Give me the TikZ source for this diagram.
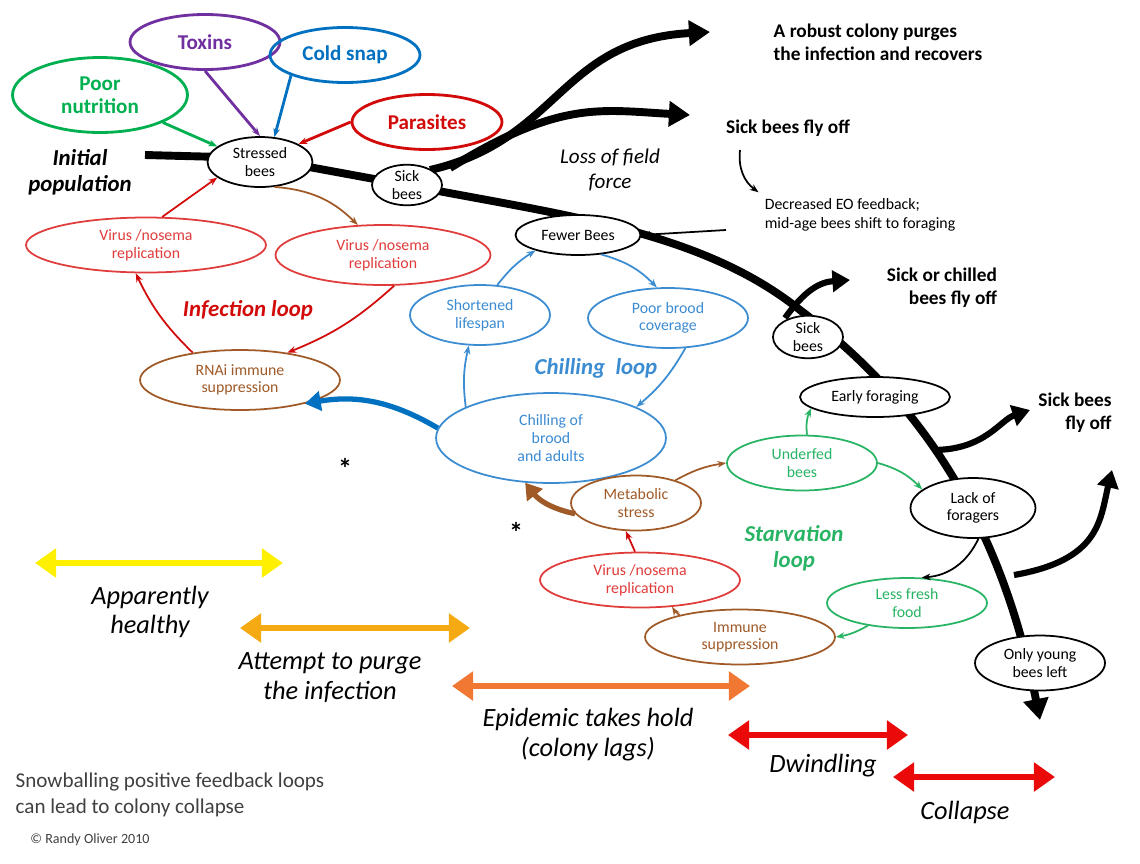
\documentclass[tikz,border=0pt]{standalone}
\usepackage{fontspec}
\setmainfont{Carlito}
\usetikzlibrary{arrows.meta,positioning,shapes.geometric}
\definecolor{tox}{RGB}{112,48,160}
\definecolor{cold}{RGB}{0,112,192}
\definecolor{nutr}{RGB}{0,176,80}
\definecolor{para}{RGB}{210,10,10}
\definecolor{chill}{RGB}{60,140,210}
\definecolor{vir}{RGB}{225,60,60}
\definecolor{brn}{RGB}{160,90,40}
\definecolor{stv}{RGB}{40,180,100}
\definecolor{yel}{RGB}{255,240,0}
\definecolor{gold}{RGB}{245,170,20}
\definecolor{orn}{RGB}{240,120,50}
\definecolor{rd}{RGB}{235,10,10}
\begin{document}
\begin{tikzpicture}[
  x=0.02cm, y=-0.02cm,
  bubble/.style={ellipse,draw,fill=white,line width=1pt,inner sep=0pt,align=center,font=\fontsize{9}{10}\selectfont},
  cause/.style={ellipse,draw,line width=1.6pt,inner sep=0pt,align=center,font=\fontsize{12}{13}\selectfont\bfseries},
  label/.style={align=center,font=\fontsize{13}{15}\selectfont\bfseries\itshape},
  note/.style={align=center,font=\fontsize{11}{13}\selectfont\bfseries},
  small/.style={-{Stealth[length=5pt]},line width=1pt},
  trunk/.style={line width=4.5pt,-{Triangle[length=12pt,width=14pt]}},
  span/.style={line width=3.5pt,{Triangle[length=12pt,width=16pt]}-{Triangle[length=12pt,width=16pt]}}
]
\useasboundingbox (0,0) rectangle (1140,863);

% main trunk and branches
\coordinate (start) at (145,155);
\draw[line width=4.5pt] (start) -- (260,158) -- (407,185);
\draw[trunk] (407,185) .. controls (560,215) and (700,230) .. (800,310)
  .. controls (920,400) and (1000,520) .. (1040,720);
\draw[trunk] (430,170) .. controls (560,140) and (560,40) .. (710,32);
\draw[trunk] (450,168) .. controls (560,100) and (600,110) .. (690,115);
\draw[line width=3.5pt,-{Triangle[length=10pt,width=12pt]}] (785,318) .. controls (805,290) and (820,282) .. (850,280);
\draw[line width=3.5pt,-{Triangle[length=10pt,width=12pt]}] (933,450) .. controls (985,450) and (1000,420) .. (1030,410);
\draw[line width=3.5pt,-{Triangle[length=10pt,width=12pt]}] (1014,575) .. controls (1100,560) and (1100,520) .. (1112,470);

% causes
\node[cause,draw=tox,text=tox,minimum width=3cm,minimum height=1.1cm] (toxins) at (205,42) {Toxins};
\node[cause,draw=cold,text=cold,minimum width=3cm,minimum height=1.1cm] (coldsnap) at (345,55) {Cold snap};
\node[cause,draw=nutr,text=nutr,minimum width=3.5cm,minimum height=1.5cm] (nutrition) at (100,95) {Poor\\nutrition};
\node[cause,draw=para,text=para,minimum width=3cm,minimum height=1.1cm] (parasites) at (427,122) {Parasites};

% infection loop
\node[bubble,minimum width=2.1cm,minimum height=1cm] (stressed) at (260,162) {Stressed\\bees};
\node[bubble,minimum width=1.4cm,minimum height=0.8cm] (sick1) at (407,185) {Sick\\bees};
\node[bubble,draw=vir,text=vir,minimum width=4.8cm,minimum height=1.1cm] (virusL) at (146,245) {Virus /nosema\\replication};
\node[bubble,draw=vir,text=vir,minimum width=4.3cm,minimum height=1.2cm] (virusR) at (383,255) {Virus /nosema\\replication};
\node[bubble,draw=brn,text=brn,minimum width=4cm,minimum height=1.2cm] (rnai) at (240,380) {RNAi immune\\suppression};

% chilling loop
\node[bubble,minimum width=2.5cm,minimum height=0.8cm] (fewer) at (578,235) {Fewer Bees};
\node[bubble,draw=chill,text=chill,minimum width=2.8cm,minimum height=1.2cm] (lifespan) at (480,315) {Shortened\\lifespan};
\node[bubble,draw=chill,text=chill,minimum width=3.2cm,minimum height=1.2cm] (brood) at (668,318) {Poor brood\\coverage};
\node[bubble,draw=chill,text=chill,minimum width=4.6cm,minimum height=1.8cm] (chilling) at (551,438) {Chilling of\\brood\\and adults};

% starvation loop
\node[bubble,minimum width=1.4cm,minimum height=0.85cm] (sick2) at (808,337) {Sick\\bees};
\node[bubble,minimum width=3cm,minimum height=0.8cm] (early) at (875,397) {Early foraging};
\node[bubble,draw=stv,text=stv,minimum width=3cm,minimum height=1.1cm] (underfed) at (802,463) {Underfed\\bees};
\node[bubble,minimum width=2.5cm,minimum height=1.2cm] (lack) at (973,508) {Lack of\\foragers};
\node[bubble,draw=brn,text=brn,minimum width=2.6cm,minimum height=1.1cm] (metabolic) at (636,503) {Metabolic\\stress};
\node[bubble,draw=vir,text=vir,minimum width=4cm,minimum height=1.1cm] (virusS) at (640,580) {Virus /nosema\\replication};
\node[bubble,draw=stv,text=stv,minimum width=3.2cm,minimum height=1cm] (fresh) at (907,603) {Less fresh\\food};
\node[bubble,draw=brn,text=brn,minimum width=3.8cm,minimum height=1.1cm] (immune) at (740,637) {Immune\\suppression};
\node[bubble,minimum width=2.6cm,minimum height=1.1cm] (young) at (1040,663) {Only young\\bees left};

% texts
\node[label] (initial) at (80,172) {Initial\\population};
\node[note,align=left] (robust) at (878,42) {A robust colony purges\\the infection and recovers};
\node[note] (flyoff1) at (788,128) {Sick bees fly off};
\node[align=center,font=\fontsize{12}{14}\selectfont\itshape] (field) at (610,170) {Loss of field\\force};
\node[align=left,font=\fontsize{9}{11}\selectfont] (eo) at (860,215) {Decreased EO feedback;\\mid-age bees shift to foraging};
\node[note,align=right] (flyoff2) at (942,288) {Sick or chilled\\bees fly off};
\node[note,align=right] (flyoff3) at (1075,413) {Sick bees\\fly off};
\node[label,para] (infloop) at (248,310) {Infection loop};
\node[label,chill] (chilloop) at (596,368) {Chilling\ \ loop};
\node[label,stv] (starloop) at (794,548) {Starvation\\loop};
\node[font=\fontsize{16}{16}\selectfont\bfseries] (star1) at (345,468) {*};
\node[font=\fontsize{16}{16}\selectfont\bfseries] (star2) at (516,532) {*};

% input arrows
\draw[small,tox,line width=1.6pt] (toxins.south) -- (stressed.north);
\draw[small,cold,line width=1.6pt] (coldsnap.south west) -- (stressed.60);
\draw[small,nutr,line width=1.6pt] (nutrition.south east) -- (stressed.160);
\draw[small,para,line width=1.6pt] (parasites.west) -- (stressed.25);

% infection loop arrows
\draw[small,brn] (stressed.-60) to[bend left=20] (virusR.130);
\draw[small,para] (virusR.-70) to[bend left=10] (rnai.30);
\draw[small,para] (rnai.150) to[bend left=10] (virusL.-110);
\draw[small,para] (virusL.60) -- (stressed.-160);

% chilling loop arrows
\draw[small,chill] (chilling.160) to[bend left=10] (lifespan.-110);
\draw[small,chill] (lifespan.60) to[bend left=10] (fewer.-160);
\draw[small,chill] (fewer.-40) to[bend left=15] (brood.110);
\draw[small,chill] (brood.-60) to[bend left=10] (chilling.20);
\draw[cold,line width=3pt,-{Triangle[length=9pt,width=11pt]}] (chilling.175) to[bend right=20] (rnai.-20);

% feedback arrows
\coordinate (eotop) at (740,150);
\coordinate (eoleft) at (726,230);
\draw[small] (eotop) to[bend right=30] (eo.north west);
\draw[small] (eoleft) -- (fewer.east);

% starvation loop arrows
\draw[small,stv] (underfed.80) to[bend left=15] (early.190);
\draw[small,stv] (underfed.east) to[bend left=15] (lack.160);
\draw[small] (lack.-80) to[bend left=30] (fresh.60);
\draw[small,stv] (fresh.-150) to[bend left=10] (immune.east);
\draw[small,brn] (immune.160) to[bend left=10] (virusS.-40);
\draw[small,para] (virusS.100) -- (metabolic.-110);
\draw[small,brn] (metabolic.30) to[bend left=10] (underfed.180);
\draw[brn,line width=3pt,-{Triangle[length=9pt,width=11pt]}] (metabolic.190) to[bend left=20] (chilling.-120);

% phases
\coordinate (y1) at (35,563);  \coordinate (y2) at (283,563);
\coordinate (g1) at (240,628); \coordinate (g2) at (470,628);
\coordinate (o1) at (452,686); \coordinate (o2) at (750,686);
\coordinate (r1) at (728,735); \coordinate (r2) at (908,735);
\coordinate (c1) at (893,777); \coordinate (c2) at (1055,777);
\draw[span,yel] (y1) -- (y2);
\draw[span,gold] (g1) -- (g2);
\draw[span,orn] (o1) -- (o2);
\draw[span,rd] (r1) -- (r2);
\draw[span,rd] (c1) -- (c2);
\node[label,font=\fontsize{15}{17}\selectfont\itshape] (healthy) at (150,612) {Apparently\\healthy};
\node[label,font=\fontsize{15}{17}\selectfont\itshape] (purge) at (330,678) {Attempt to purge\\the infection};
\node[label,font=\fontsize{15}{17}\selectfont\itshape] (epidemic) at (588,735) {Epidemic takes hold\\(colony lags)};
\node[label,font=\fontsize{15}{17}\selectfont\itshape] (dwindling) at (823,766) {Dwindling};
\node[label,font=\fontsize{15}{17}\selectfont\itshape] (collapse) at (965,812) {Collapse};
\node[align=left,font=\fontsize{12}{15}\selectfont,text=black!75] (snow) at (170,795) {Snowballing positive feedback loops\\can lead to colony collapse};
\node[font=\fontsize{8}{8}\selectfont,text=black!75] (copy) at (90,840) {\textcopyright\ Randy Oliver 2010};
\end{tikzpicture}
\end{document}
